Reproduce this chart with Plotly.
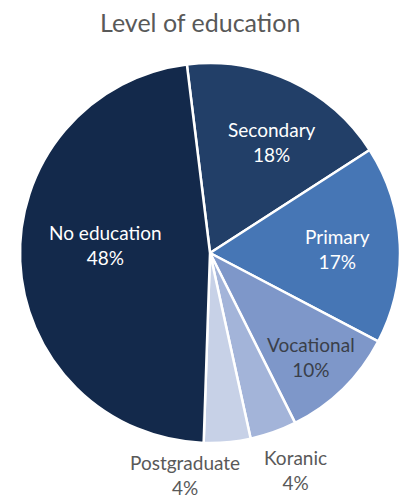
import math
import plotly.graph_objects as go

# Share of respondents by level of education (percent)
categories = ["Secondary", "Primary", "Vocational", "Koranic", "Postgraduate", "No education"]
shares = [18, 17, 10, 4, 4, 48]

colors = ["#223F68", "#4676B5", "#7E97C9", "#A3B4D9", "#C7D1E7", "#13294B"]
label_colors = ["white", "white", "#3A3F4A", "#595959", "#595959", "white"]
# label placement: (angle clockwise from 12 o'clock in degrees, distance as fraction of radius)
label_place = [(29.2, 0.67), (88.2, 0.67), (135.8, 0.76), (158.5, 1.23), (186.5, 1.175), (274.4, 0.55)]

# pie geometry in pixels
W, H = 400, 499
cx, cy, R = 210, 253, 190

fig = go.Figure(
    go.Pie(
        labels=categories,
        values=shares,
        sort=False,
        direction="clockwise",
        rotation=-7,
        marker=dict(colors=colors, line=dict(color="white", width=2.5)),
        textinfo="none",
        hoverinfo="label+value",
        showlegend=False,
        domain=dict(x=[(cx - R) / W, (cx + R) / W], y=[(H - cy - R) / H, (H - cy + R) / H]),
    )
)

annotations = []
for name, val, col, (ang, rf) in zip(categories, shares, label_colors, label_place):
    a = math.radians(ang)
    px = cx + rf * R * math.sin(a)
    py = cy - rf * R * math.cos(a)
    annotations.append(
        dict(
            x=px / W,
            y=1 - py / H,
            xref="paper",
            yref="paper",
            xanchor="center",
            yanchor="middle",
            text=f"{name}<br>{val}%",
            showarrow=False,
            font=dict(family="Lato, Open Sans, sans-serif", size=19, color=col),
            align="center",
        )
    )

annotations.append(
    dict(
        x=0.5,
        y=1 - 22 / H,
        xref="paper",
        yref="paper",
        xanchor="center",
        yanchor="middle",
        text="Level of education",
        showarrow=False,
        font=dict(family="Lato, Open Sans, sans-serif", size=25, color="#595959"),
    )
)

fig.update_layout(
    width=W,
    height=H,
    margin=dict(l=0, r=0, t=0, b=0),
    paper_bgcolor="white",
    plot_bgcolor="white",
    annotations=annotations,
)

fig.write_html("out.html")
